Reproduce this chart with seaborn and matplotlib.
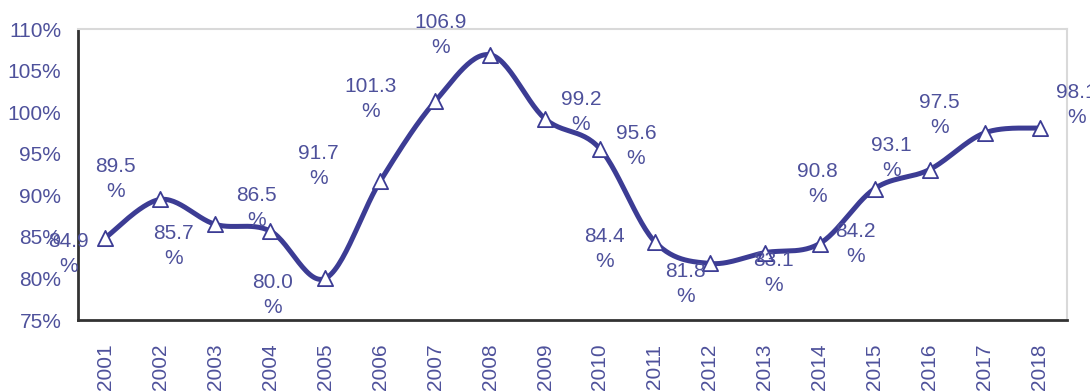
import numpy as np
import pandas as pd
import matplotlib
matplotlib.use("Agg")
import matplotlib.pyplot as plt
import seaborn as sns

years = ["2001", "2002", "2003", "2004", "2005", "2006", "2007", "2008", "2009",
         "2010", "2011", "2012", "2013", "2014", "2015", "2016", "2017", "2018"]
values = [84.9, 89.5, 86.5, 85.7, 80.0, 91.7, 101.3, 106.9, 99.2,
          95.6, 84.4, 81.8, 83.1, 84.2, 90.8, 93.1, 97.5, 98.1]
y_ticks = [75, 80, 85, 90, 95, 100, 105, 110]

# label offsets in pixels (dx right, dy down) relative to each point
label_offsets = [(-37, 16), (-45, -20), (41, -16), (-97, 15), (-53, 17), (-62, -15),
                 (-65, -2), (-50, -20), (36, -7), (36, -3), (-50, 7), (-24, 21),
                 (9, 20), (36, 0), (-57, -5), (-38, -12), (-45, -18), (37, -23)]

sns.set_theme(style="white")
plt.rcParams["font.family"] = ["Liberation Sans", "DejaVu Sans"]

line_color = "#3c3c94"
text_color = "#4e519b"
fs = 15

fig = plt.figure(figsize=(10.9, 3.92), dpi=100)
ax = fig.add_axes([78 / 1090, 1 - 320 / 392, (1067 - 78) / 1090, (320 - 29) / 392])

x = np.arange(len(values))
df = pd.DataFrame({"x": x, "value": values})

# smooth curve (Bezier / Catmull-Rom style, like a spreadsheet "smoothed line")
p = np.array(values, dtype=float)
pp = np.concatenate([[p[0]], p, [p[-1]]])
xx = np.concatenate([[x[0]], x, [x[-1]]]).astype(float)
sx, sy = [], []
t = np.linspace(0, 1, 30)
for i in range(1, len(pp) - 2):
    P0, P1, P2, P3 = pp[i - 1], pp[i], pp[i + 1], pp[i + 2]
    X0, X1, X2, X3 = xx[i - 1], xx[i], xx[i + 1], xx[i + 2]
    c1y = P1 + (P2 - P0) / 6
    c2y = P2 - (P3 - P1) / 6
    c1x = X1 + (X2 - X0) / 6
    c2x = X2 - (X3 - X1) / 6
    by = (1 - t) ** 3 * P1 + 3 * (1 - t) ** 2 * t * c1y + 3 * (1 - t) * t ** 2 * c2y + t ** 3 * P2
    bx = (1 - t) ** 3 * X1 + 3 * (1 - t) ** 2 * t * c1x + 3 * (1 - t) * t ** 2 * c2x + t ** 3 * X2
    sx.extend(bx)
    sy.extend(by)
smooth = pd.DataFrame({"x": sx, "value": sy})

sns.lineplot(data=smooth, x="x", y="value", ax=ax, color=line_color, linewidth=3.6,
             sort=False, estimator=None)
sns.scatterplot(data=df, x="x", y="value", ax=ax, marker="^", s=120,
                facecolor="white", edgecolor=line_color, linewidth=1.3, zorder=5)

for i, v in enumerate(values):
    dx, dy = label_offsets[i]
    ax.annotate(f"{v:.1f}\n%", xy=(i, v), xytext=(dx * 0.72, -dy * 0.72),
                textcoords="offset points", ha="center", va="center",
                multialignment="center", fontsize=fs, color=text_color,
                annotation_clip=False, linespacing=1.4, zorder=6)

ax.set_xlim(-0.5, len(values) - 0.5)
ax.set_ylim(75, 110)
ax.set_yticks(y_ticks)
ax.set_yticklabels([f"{t}%" for t in y_ticks])
ax.set_xticks(np.arange(-0.5, len(values), 1))
ax.set_xticklabels([])
ax.set_xticks(x, minor=True)
ax.set_xticklabels(years, minor=True, rotation=90)
ax.tick_params(axis="x", which="major", length=9, width=1.8, color="#333333", direction="out")
ax.tick_params(axis="x", which="minor", length=0, pad=17, labelsize=fs, labelcolor=text_color)
ax.tick_params(axis="y", which="major", length=7, width=1.8, color="#333333", direction="out",
               pad=5, labelsize=fs, labelcolor=text_color)
for lbl in ax.get_xticklabels(minor=True):
    lbl.set_va("top")
ax.set_xlabel("")
ax.set_ylabel("")

ax.spines["left"].set_color("#333333")
ax.spines["bottom"].set_color("#333333")
ax.spines["left"].set_linewidth(2)
ax.spines["bottom"].set_linewidth(2)
ax.spines["top"].set_color("#d9d9d9")
ax.spines["right"].set_color("#d9d9d9")
ax.spines["top"].set_linewidth(1.5)
ax.spines["right"].set_linewidth(1.5)
ax.grid(False)

fig.savefig("out.png", dpi=100)
